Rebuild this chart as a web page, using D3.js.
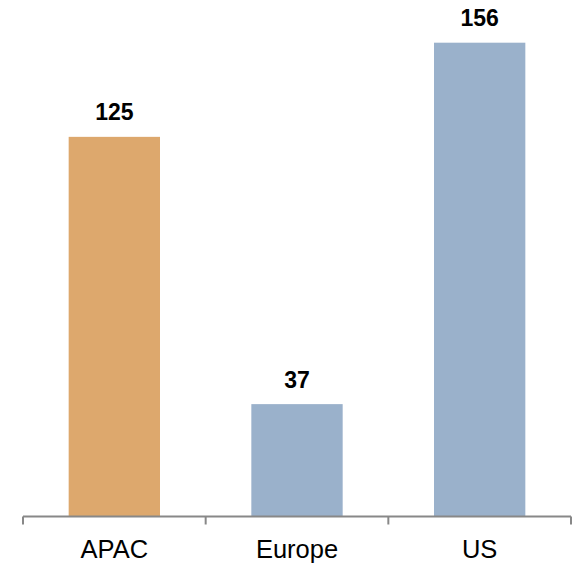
<!DOCTYPE html>
<html><head><meta charset="utf-8">
<script src="https://cdn.jsdelivr.net/npm/d3@7"></script>
<style>html,body{margin:0;padding:0;background:#fff;}svg{display:block;font-family:Arial,"Liberation Sans",sans-serif;}</style>
</head><body>
<svg id="c" width="573" height="563"></svg>
<script>
const categories = ["APAC", "Europe", "US"];
const values = [125, 37, 156];
const barColors = ["#DDA86D", "#9AB1CB", "#9AB1CB"];

const svg = d3.select("#c");
const left = 23, right = 571, baseline = 516.5;
const x = d3.scaleBand().domain(categories).range([left, right]).paddingInner(0.5).paddingOuter(0.25);
const y = d3.scaleLinear().domain([0, 156]).range([baseline, 42.7]);

svg.selectAll("rect.bar").data(values).enter().append("rect")
  .attr("class", "bar")
  .attr("x", (d, i) => x(categories[i]))
  .attr("width", x.bandwidth())
  .attr("y", d => y(d))
  .attr("height", d => baseline - y(d))
  .attr("fill", (d, i) => barColors[i]);

svg.selectAll("text.val").data(values).enter().append("text")
  .attr("class", "val")
  .attr("x", (d, i) => x(categories[i]) + x.bandwidth() / 2)
  .attr("y", d => y(d) - 16.5)
  .attr("text-anchor", "middle")
  .attr("font-size", 23)
  .attr("font-weight", "bold")
  .attr("fill", "#000")
  .text(d => d);

// axis
const g = svg.append("g");
g.append("line").attr("x1", left).attr("x2", right).attr("y1", baseline).attr("y2", baseline)
  .attr("stroke", "#888").attr("stroke-width", 2);
const tickXs = d3.range(categories.length + 1).map(i => left + i * (right - left) / categories.length);
g.selectAll("line.tick").data(tickXs).enter().append("line")
  .attr("class", "tick")
  .attr("x1", d => d).attr("x2", d => d)
  .attr("y1", baseline).attr("y2", baseline + 8)
  .attr("stroke", "#888").attr("stroke-width", 2);

g.selectAll("text.cat").data(categories).enter().append("text")
  .attr("class", "cat")
  .attr("x", d => x(d) + x.bandwidth() / 2)
  .attr("y", 558)
  .attr("text-anchor", "middle")
  .attr("font-size", 25.5)
  .attr("fill", "#000")
  .text(d => d);
</script>
</body></html>
